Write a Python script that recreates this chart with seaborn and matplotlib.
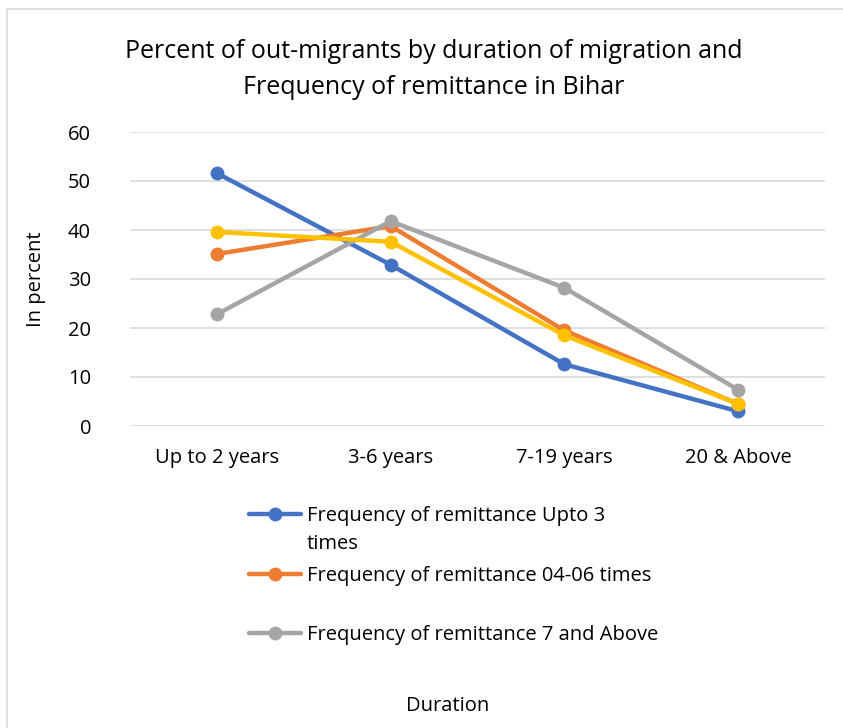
import matplotlib
matplotlib.use("Agg")
import matplotlib.pyplot as plt
import seaborn as sns
import pandas as pd
from matplotlib.patches import Rectangle

categories = ["Up to 2 years", "3-6 years", "7-19 years", "20 & Above"]
upto3 = [51.6, 32.9, 12.6, 3.0]
t04_06 = [35.1, 40.8, 19.5, 4.5]
seven_above = [22.8, 41.8, 28.2, 7.4]
total = [39.6, 37.6, 18.5, 4.5]

series_names = ["Frequency of remittance Upto 3 times",
                "Frequency of remittance 04-06 times",
                "Frequency of remittance 7 and Above",
                "Total"]
legend_labels = ["Frequency of remittance Upto 3",
                 "Frequency of remittance 04-06 times",
                 "Frequency of remittance 7 and Above"]
colors = ["#4472C4", "#ED7D31", "#A5A5A5", "#FFC000"]

rows = []
for name, vals in zip(series_names, [upto3, t04_06, seven_above, total]):
    for c, v in zip(categories, vals):
        rows.append({"Duration": c, "value": v, "series": name})
df = pd.DataFrame(rows)

sns.set_theme(style="white")
plt.rcParams['font.family'] = ['Open Sans', 'DejaVu Sans']
plt.rcParams['text.color'] = '#000000'

FS = 14.5
fig = plt.figure(figsize=(8.43, 7.28), dpi=100)
fig.patches.append(Rectangle((7/843, -0.1), 1.1, (728-9)/728 + 0.1, transform=fig.transFigure,
                             fill=False, edgecolor="#d9d9d9", linewidth=1.2))
ax = fig.add_axes([130/843, (728-426)/728, 695/843, 294/728])

sns.lineplot(data=df, x="Duration", y="value", hue="series", palette=colors,
             marker="o", markersize=10, markeredgewidth=0, linewidth=3.2,
             ax=ax, legend=False, sort=False)

ax.set_ylim(0, 60)
ax.set_xlim(-0.5, 3.5)
ax.set_yticks(range(0, 61, 10))
ax.grid(axis="y", color="#d9d9d9", linewidth=1.2)
ax.set_axisbelow(True)
for s in ax.spines.values():
    s.set_visible(False)
ax.tick_params(axis="y", length=0, pad=28, labelsize=FS, labelcolor="#000000")
ax.tick_params(axis="x", length=0, pad=16, labelsize=FS, labelcolor="#000000")
ax.set_xlabel("")
ax.set_ylabel("In percent", fontsize=FS, color="#000000", labelpad=16)

fig.text(434/843, 1 - 52/728, "Percent of out-migrants by duration of migration and",
         ha="center", va="center", fontsize=18, color="#000000")
fig.text(434/843, 1 - 87/728, "Frequency of remittance in Bihar",
         ha="center", va="center", fontsize=18, color="#000000")
fig.text(448/843, 1 - 706/728, "Duration", ha="center", va="center", fontsize=FS,
         color="#000000")

lines = ax.get_lines()[:3]
leg = fig.legend(lines, legend_labels, loc="upper left",
                 bbox_to_anchor=(241/843, 1 - 498/728), frameon=False,
                 fontsize=FS, handlelength=2.6, handletextpad=0.3, labelspacing=1.97,
                 borderaxespad=0)
for t in leg.get_texts():
    t.set_color("#000000")
fig.text(307/843, 1 - 544/728, "times", ha="left", va="center", fontsize=FS,
         color="#000000")

fig.savefig("out.png", dpi=100)
